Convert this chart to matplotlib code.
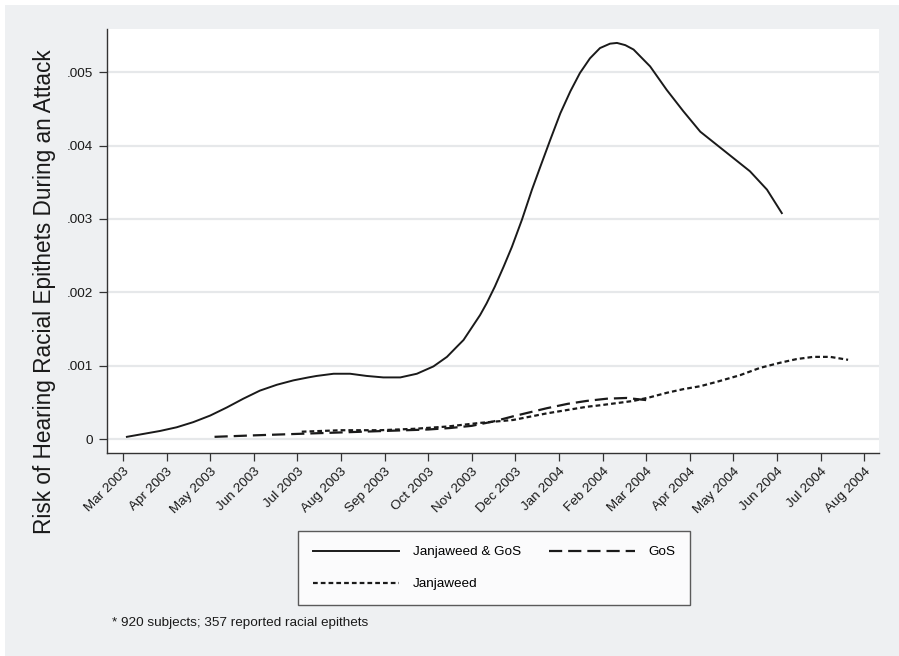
import matplotlib
matplotlib.use("Agg")
import matplotlib.pyplot as plt
from matplotlib.patches import Rectangle

plt.rcParams['font.family'] = ['Liberation Sans', 'DejaVu Sans']
plt.rcParams['lines.scale_dashes'] = False

# month index: 0 = Mar 2003 ... 17 = Aug 2004
month_labels = ['Mar 2003', 'Apr 2003', 'May 2003', 'Jun 2003', 'Jul 2003', 'Aug 2003',
                'Sep 2003', 'Oct 2003', 'Nov 2003', 'Dec 2003', 'Jan 2004', 'Feb 2004',
                'Mar 2004', 'Apr 2004', 'May 2004', 'Jun 2004', 'Jul 2004', 'Aug 2004']

# Janjaweed & GoS
both_x = [0.09, 0.47, 0.85, 1.23, 1.61, 2.00, 2.38, 2.76, 3.14, 3.53, 3.91, 4.25,
          4.44, 4.83, 5.21, 5.59, 5.97, 6.36, 6.74, 7.12, 7.43, 7.66, 7.81, 8.19,
          8.34, 8.53, 8.73, 8.92, 9.15, 9.38, 9.57, 9.80, 10.03, 10.26, 10.48,
          10.71, 10.94, 11.17, 11.33, 11.52, 11.71, 12.09, 12.47, 12.85, 13.24,
          13.62, 14.00, 14.38, 14.77, 15.11]
both_y = [0.00003, 0.00007, 0.00011, 0.00016, 0.00023, 0.00032, 0.00043, 0.00055,
          0.00066, 0.00074, 0.00080, 0.00084, 0.00086, 0.00089, 0.00089, 0.00086,
          0.00084, 0.00084, 0.00089, 0.00099, 0.00112, 0.00126, 0.00135, 0.00169,
          0.00185, 0.00208, 0.00235, 0.00262, 0.00299, 0.00340, 0.00371, 0.00408,
          0.00444, 0.00474, 0.00499, 0.00519, 0.00533, 0.00539, 0.00540, 0.00537,
          0.00531, 0.00508, 0.00476, 0.00447, 0.00419, 0.00401, 0.00383, 0.00365,
          0.00340, 0.00308]

# GoS
gos_x = [2.1, 3.0, 4.0, 5.0, 6.0, 7.0, 7.5, 8.0, 8.5, 8.95, 9.72, 10.2, 10.64, 11.1,
         11.55, 12.01]
gos_y = [0.00003, 0.00005, 0.00007, 0.00009, 0.00011, 0.00013, 0.00015, 0.00018,
         0.00024, 0.00031, 0.00042, 0.00048, 0.00052, 0.00055, 0.00056, 0.00053]

# Janjaweed
jan_x = [4.1, 5.0, 5.9, 6.7, 7.43, 8.19, 8.95, 9.72, 10.64, 10.94, 11.33, 11.71,
         12.09, 12.47, 12.85, 13.24, 13.62, 14.15, 14.61, 15.07, 15.45, 15.83,
         16.22, 16.63]
jan_y = [0.00010, 0.00012, 0.00012, 0.00014, 0.00017, 0.00022, 0.00026, 0.00035,
         0.00044, 0.00046, 0.00049, 0.00052, 0.00057, 0.00063, 0.00068, 0.00072,
         0.00078, 0.00087, 0.00097, 0.00104, 0.00109, 0.00112, 0.00112, 0.00108]

y_ticks = [0, 0.001, 0.002, 0.003, 0.004, 0.005]
y_tick_labels = ['0', '.001', '.002', '.003', '.004', '.005']

ink = '#1a1a1a'
panel = '#eef0f2'

fig = plt.figure(figsize=(8.99, 6.56), dpi=100, facecolor='white')
fig.patches.append(Rectangle((5 / 899, 0), 1, 651 / 656, transform=fig.transFigure,
                             facecolor=panel, edgecolor='none', zorder=-10))

ax = fig.add_axes([0.119, 0.3095, 0.8588, 0.6463])
ax.set_facecolor('white')

l1, = ax.plot(both_x, both_y, color=ink, lw=1.4, solid_joinstyle='round')
l2, = ax.plot(gos_x, gos_y, color=ink, lw=1.6, linestyle=(0, (9.5, 4.3)))
l3, = ax.plot(jan_x, jan_y, color=ink, lw=1.6, linestyle=(0, (3.4, 2.2)))

ax.set_xlim(-0.367, 17.34)
ax.set_ylim(-0.00019, 0.00559)
ax.set_xticks(range(len(month_labels)))
ax.set_xticklabels(month_labels, rotation=45, ha='right', rotation_mode='anchor')
ax.set_yticks(y_ticks)
ax.set_yticklabels(y_tick_labels)
ax.tick_params(axis='both', direction='out', length=6, width=0.9, color='#333333',
               labelsize=9.7, labelcolor=ink)
ax.tick_params(axis='y', pad=4)
ax.tick_params(axis='x', pad=3)
ax.grid(axis='y', color='#e6e8ea', lw=1.6)
ax.set_axisbelow(True)
for side in ['top', 'right']:
    ax.spines[side].set_visible(False)
for side in ['left', 'bottom']:
    ax.spines[side].set_color('#333333')
    ax.spines[side].set_linewidth(1.0)

fig.text(0.049, 0.556, 'Risk of Hearing Racial Epithets During an Attack',
         rotation=90, ha='center', va='center', fontsize=16.3, color=ink)

leg = fig.legend([l1, l3, l2], ['Janjaweed & GoS', 'Janjaweed', 'GoS'], ncol=2,
                 loc='upper left', bbox_to_anchor=(298 / 899, (656 - 531) / 656),
                 fontsize=9.7, frameon=True, fancybox=False, handlelength=6.4,
                 handletextpad=1.0, columnspacing=2.1, labelspacing=1.45,
                 borderpad=1.1, borderaxespad=0)
leg.get_frame().set_edgecolor('#333333')
leg.get_frame().set_linewidth(1.0)
leg.get_frame().set_facecolor('white')

fig.text(112 / 899, (656 - 623) / 656, '* 920 subjects; 357 reported racial epithets',
         fontsize=9.7, color=ink, va='center', ha='left')

fig.savefig('out.png', dpi=100, facecolor='white')
